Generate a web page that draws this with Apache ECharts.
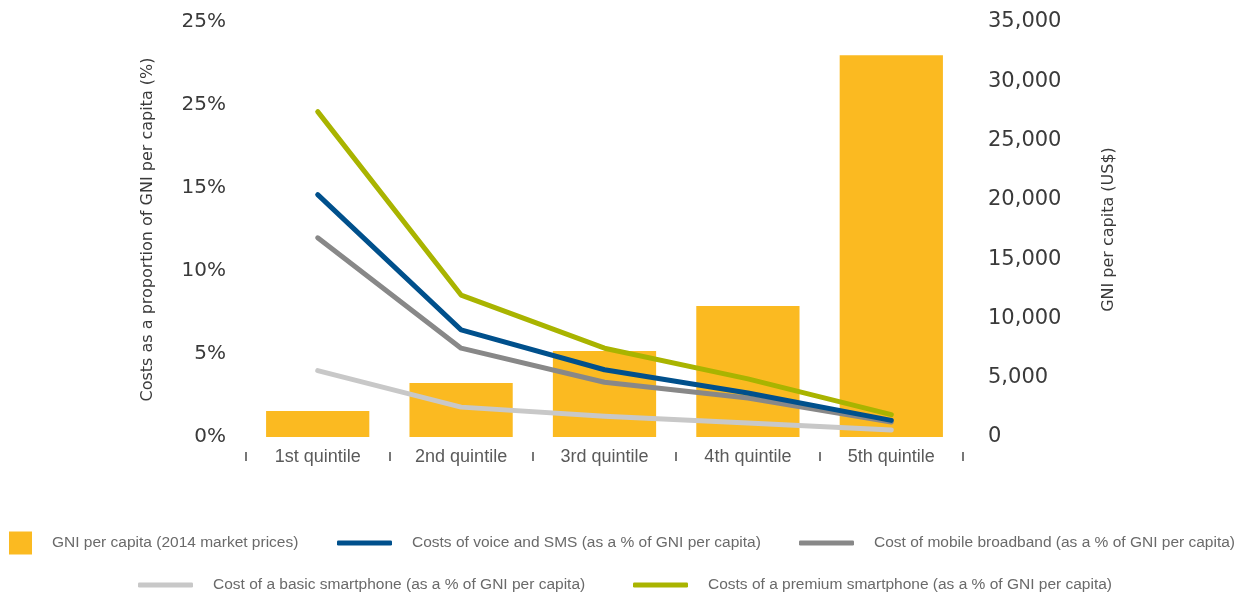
<!DOCTYPE html>
<html>
<head>
<meta charset="utf-8">
<script src="https://cdn.jsdelivr.net/npm/echarts@6/dist/echarts.min.js"></script>
<style>
html,body{margin:0;padding:0;background:#fff;}
#chart{width:1243px;height:599px;}
</style>
</head>
<body>
<div id="chart"></div>
<script>
const categories = ['1st quintile', '2nd quintile', '3rd quintile', '4th quintile', '5th quintile'];
const gniPerCapita = [2200, 4550, 7250, 11050, 32200];
const voiceSms = [14.6, 6.45, 4.05, 2.65, 1.0];
const mobileBroadband = [12.0, 5.35, 3.3, 2.35, 0.9];
const basicSmartphone = [4.0, 1.8, 1.25, 0.85, 0.42];
const premiumSmartphone = [19.6, 8.55, 5.35, 3.5, 1.35];
const leftTickLabels = ['0%', '5%', '10%', '15%', '25%', '25%'];
const rightTickLabels = ['0', '5,000', '10,000', '15,000', '20,000', '25,000', '30,000', '35,000'];

const names = {
  gni: 'GNI per capita (2014 market prices)',
  voice: 'Costs of voice and SMS (as a % of GNI per capita)',
  broad: 'Cost of mobile broadband (as a % of GNI per capita)',
  basic: 'Cost of a basic smartphone (as a % of GNI per capita)',
  premium: 'Costs of a premium smartphone (as a % of GNI per capita)'
};
const colors = {
  gni: '#FBBA21', voice: '#00508C', broad: '#888888', basic: '#C8C8C8', premium: '#A9B400'
};

const narrow = '"Liberation Sans", Arial, sans-serif';
const legendText = { fontFamily: narrow, fontSize: 15.5, color: '#6a6a6a', lineHeight: 24, padding: [0, 0, 0, 15] };
function mkLegend(key, left, top, square) {
  return {
    data: [{ name: names[key], icon: square ? 'rect' : 'roundRect' }],
    left: left, top: top, padding: 0, selectedMode: false,
    itemWidth: square ? 23 : 55, itemHeight: square ? 23 : 5,
    textStyle: legendText
  };
}

const chart = echarts.init(document.getElementById('chart'), null, { renderer: 'canvas' });
function lineSeries(key, data) {
  return {
    name: names[key], type: 'line', yAxisIndex: 0, data: data,
    symbol: 'none', smooth: false,
    lineStyle: { width: 5, color: colors[key], cap: 'round', join: 'round' },
    itemStyle: { color: colors[key] }, z: 3
  };
}
chart.setOption({
  animation: false,
  grid: { left: 246, right: 280, top: 22, bottom: 162, containLabel: false },
  legend: [
    mkLegend('gni', 9, 531, true),
    mkLegend('voice', 337, 531, false),
    mkLegend('broad', 799, 531, false),
    mkLegend('basic', 138, 573, false),
    mkLegend('premium', 633, 573, false)
  ],
  xAxis: {
    type: 'category', data: categories, offset: 15,
    axisLine: { show: false },
    axisTick: { show: true, inside: false, length: 24,
      lineStyle: { color: '#777', width: 2, type: [0, 15, 9, 60] } },
    axisLabel: { fontFamily: narrow, fontSize: 18, color: '#5a5a5a', verticalAlign: 'middle', margin: 5 },
    splitLine: { show: false }
  },
  yAxis: [
    {
      type: 'value', min: 0, max: 25, interval: 5, position: 'left',
      name: 'Costs as a proportion of GNI per capita (%)', nameLocation: 'middle', nameGap: 90, nameRotate: 90,
      nameTextStyle: { fontFamily: 'DejaVu Sans', fontSize: 16, color: '#3a3a3a' },
      axisLine: { show: false }, axisTick: { show: false }, splitLine: { show: false },
      axisLabel: { fontFamily: 'DejaVu Sans', fontSize: 20, color: '#3a3a3a', margin: 20,
        formatter: v => leftTickLabels[Math.round(v / 5)] }
    },
    {
      type: 'value', min: 0, max: 35000, interval: 5000, position: 'right',
      name: 'GNI per capita (US$)', nameLocation: 'middle', nameGap: 138, nameRotate: 90,
      nameTextStyle: { fontFamily: 'DejaVu Sans', fontSize: 16, color: '#3a3a3a' },
      axisLine: { show: false }, axisTick: { show: false }, splitLine: { show: false },
      axisLabel: { fontFamily: 'DejaVu Sans', fontSize: 21, color: '#3a3a3a', margin: 25,
        formatter: v => rightTickLabels[Math.round(v / 5000)] }
    }
  ],
  series: [
    { name: names.gni, type: 'bar', yAxisIndex: 1, data: gniPerCapita, barWidth: '72%',
      itemStyle: { color: colors.gni }, z: 2 },
    lineSeries('basic', basicSmartphone),
    lineSeries('broad', mobileBroadband),
    lineSeries('voice', voiceSms),
    lineSeries('premium', premiumSmartphone)
  ]
});
</script>
</body>
</html>
